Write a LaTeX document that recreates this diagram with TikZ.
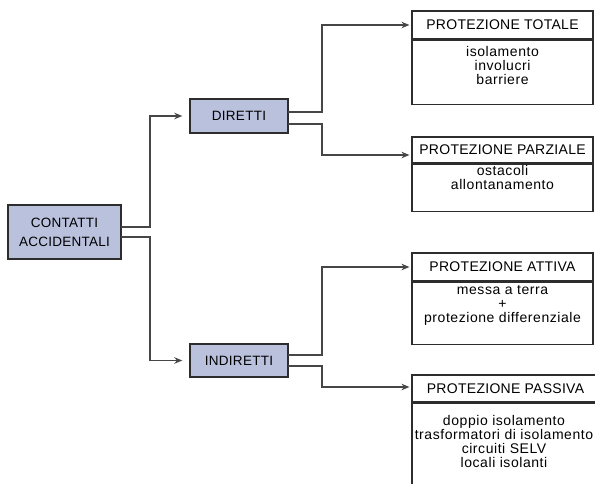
\documentclass[tikz,border=0pt]{standalone}
\usepackage{fontspec}
\setmainfont{Liberation Sans}
\newfontfamily\hdfont[LetterSpace=2]{Liberation Sans}
\newfontfamily\bdfont[LetterSpace=4]{Liberation Sans}
\usetikzlibrary{arrows.meta}
\definecolor{boxblue}{RGB}{186,193,221}
\definecolor{edge}{RGB}{45,45,45}
\definecolor{linec}{RGB}{70,70,70}
\tikzset{
  bluebox/.style={draw=edge, fill=boxblue, line width=1.4pt, align=center, inner sep=0pt,
    font=\hdfont\fontsize{13.5}{19}\selectfont, text=black},
  headbox/.style={draw=edge, line width=1.1pt, inner sep=0pt, font=\hdfont\fontsize{14}{17}\selectfont, text=black},
  bodybox/.style={draw=edge, line width=1.1pt, inner sep=0pt},
  bodytext/.style={anchor=north, inner sep=0pt, align=center, font=\bdfont\fontsize{14}{14}\selectfont, text=black},
  conn/.style={draw=linec, line width=1.3pt, -{Stealth[length=8pt,width=6.5pt]}}
}
\begin{document}
\begin{tikzpicture}[x=1pt,y=-1pt]
\useasboundingbox (0,0) rectangle (595,484);
\clip (0,0) rectangle (595,484);
\fill[white] (0,0) rectangle (595,484);

% left boxes
\node[bluebox, minimum width=113pt, minimum height=54pt] (ca) at (64.5,232) {CONTATTI\\ACCIDENTALI};
\node[bluebox, minimum width=98pt, minimum height=34pt] (dir) at (239,116) {DIRETTI};
\node[bluebox, minimum width=98pt, minimum height=33pt] (ind) at (239,360.5) {INDIRETTI};

% right boxes
\node[headbox, minimum width=181pt, minimum height=28pt] (tot) at (502.5,25) {PROTEZIONE TOTALE};
\node[bodybox, minimum width=181pt, minimum height=64pt, anchor=north] (totb) at (tot.south) {};
\node[bodytext] (tott) at (502.5,46) {isolamento\\involucri\\barriere};

\node[headbox, minimum width=181pt, minimum height=26pt] (par) at (502.5,150) {PROTEZIONE PARZIALE};
\node[bodybox, minimum width=181pt, minimum height=47pt, anchor=north] (parb) at (par.south) {};
\node[bodytext] (part) at (502.5,165) {ostacoli\\allontanamento};

\node[headbox, minimum width=181pt, minimum height=28pt] (att) at (502.5,267) {PROTEZIONE ATTIVA};
\node[bodybox, minimum width=181pt, minimum height=62pt, anchor=north] (attb) at (att.south) {};
\node[bodytext] (attt) at (502.5,285.5) {messa a terra\\+\\protezione differenziale};

\node[headbox, minimum width=187pt, minimum height=27pt] (pas) at (505.5,388.5) {PROTEZIONE PASSIVA};
\node[bodybox, minimum width=187pt, minimum height=100pt, anchor=north] (pasb) at (pas.south) {};
\node[bodytext] (past) at (504,415) {doppio isolamento\\trasformatori di isolamento\\circuiti SELV\\locali isolanti};

% connector start points
\coordinate (ca1) at (121,227);
\coordinate (ca2) at (121,237);
\coordinate (d1) at (288,112);
\coordinate (d2) at (288,124);
\coordinate (i1) at (288,355);
\coordinate (i2) at (288,366);

\draw[conn] (ca1) -- ++(29,0) |- ([xshift=-7pt]dir.west);
\draw[conn] (ca2) -- ++(29,0) |- ([xshift=-7pt]ind.west);
\draw[conn] (d1) -- ++(34,0) |- ([xshift=-2pt]tot.west);
\draw[conn] (d2) -- ++(34,0) |- ([shift={(-2pt,-5pt)}]par.west);
\draw[conn] (i1) -- ++(34,0) |- ([xshift=-2pt]att.west);
\draw[conn] (i2) -- ++(34,0) |- ([shift={(-2pt,1.5pt)}]pas.west);
\end{tikzpicture}
\end{document}
